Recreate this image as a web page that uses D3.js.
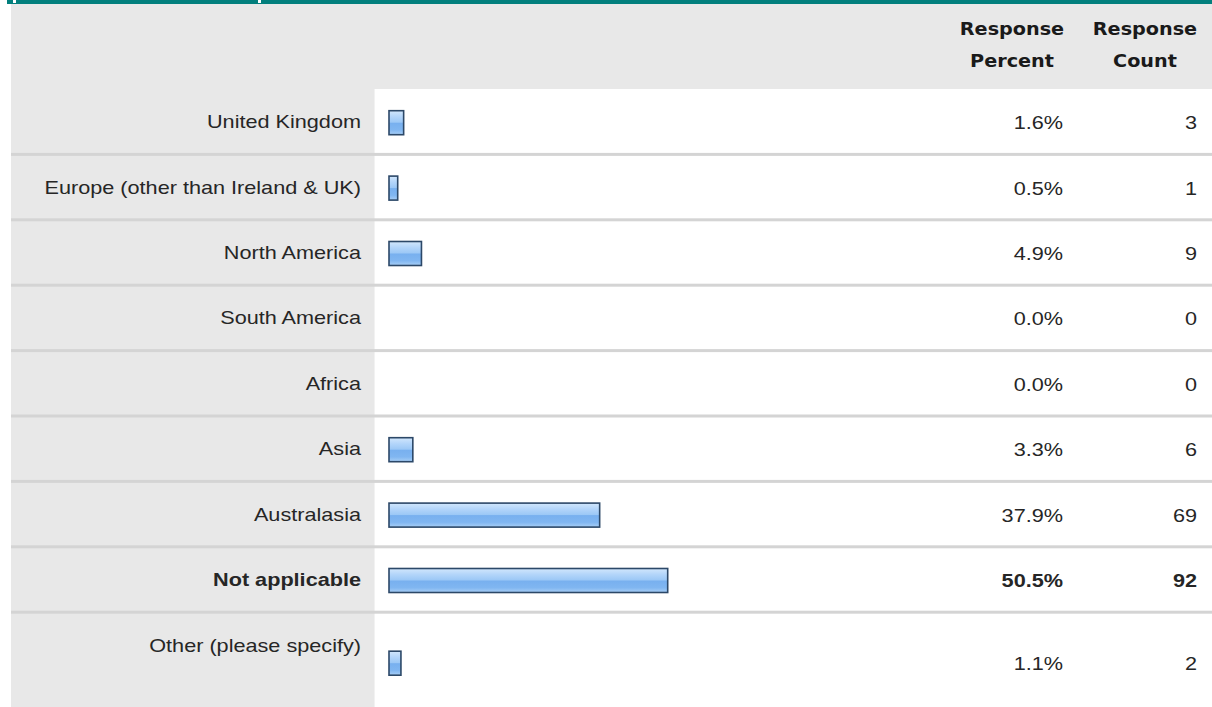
<!DOCTYPE html>
<html>
<head>
<meta charset="utf-8">
<script src="https://cdn.jsdelivr.net/npm/d3@7"></script>
<style>
  html, body { margin: 0; padding: 0; background: #fff; }
  svg { display: block; }
</style>
</head>
<body>
<div id="chart"></div>
<script>

// data
const categories = ["United Kingdom", "Europe (other than Ireland & UK)", "North America",
    "South America", "Africa", "Asia", "Australasia", "Not applicable", "Other (please specify)"];
const percents = [1.6, 0.5, 4.9, 0.0, 0.0, 3.3, 37.9, 50.5, 1.1];
const counts = [3, 1, 9, 0, 0, 6, 69, 92, 2];
const boldRows = ["Not applicable"];
const headers = [["Response", "Percent"], ["Response", "Count"]];

// constants
const width = 1212;
const height = 707;
const headTop = 4;
const headBottom = 89;
const rowStep = 65.4;
const labelColRight = 375;

const svg = d3.select("#chart")
    .append("svg")
    .attr("width", width)
    .attr("height", height);

// row scale
const y = d3.scaleBand()
    .domain(categories)
    .range([headBottom, headBottom + rowStep * categories.length])
    .padding(0);

// bar scale (bars start at 389, short bars get a small base width)
const barStart = 389;
const x = d3.scaleLinear()
    .domain([0, 100])
    .range([barStart + 6, barStart + 546]);

// gradient for the bars
const defs = svg.append("defs");
const grad = defs.append("linearGradient")
    .attr("id", "barGrad")
    .attr("x1", 0).attr("y1", 0).attr("x2", 0).attr("y2", 1);
[["0%", "#d2e7fc"], ["25%", "#b3d5fa"], ["48%", "#9cc8f6"], ["52%", "#78b0ef"],
 ["80%", "#80b6f1"], ["100%", "#a9cff6"]].forEach(s => {
    grad.append("stop").attr("offset", s[0]).attr("stop-color", s[1]);
});

// top teal strip
svg.append("rect")
    .attr("x", 7).attr("y", 0)
    .attr("width", width - 7).attr("height", headTop)
    .attr("fill", "#027f7d");
[13, 258].forEach(px => {
    svg.append("rect")
        .attr("x", px).attr("y", 0)
        .attr("width", 3).attr("height", 3)
        .attr("fill", "#ffffff");
});

// header background
svg.append("rect")
    .attr("x", 11).attr("y", headTop)
    .attr("width", width - 11).attr("height", headBottom - headTop)
    .attr("fill", "#e8e8e8");

// label column background
svg.append("rect")
    .attr("x", 11).attr("y", headBottom)
    .attr("width", labelColRight - 11).attr("height", height - headBottom)
    .attr("fill", "#e8e8e8");

// faint edge of label column
svg.append("line")
    .attr("x1", labelColRight - 0.5).attr("x2", labelColRight - 0.5)
    .attr("y1", headBottom).attr("y2", height)
    .attr("stroke", "#f2f2f2");

// header text
const headerX = [1012, 1145];
headers.forEach((lines, i) => {
    lines.forEach((t, j) => {
        svg.append("text")
            .attr("class", "stretch")
            .attr("data-k", 1.13)
            .attr("x", headerX[i])
            .attr("y", 29 + j * 32)
            .attr("dy", "0.35em")
            .attr("text-anchor", "middle")
            .style("font-family", "'DejaVu Sans', Verdana, sans-serif")
            .style("font-weight", "bold")
            .style("font-size", "17px")
            .style("fill", "#1a1a1a")
            .text(t);
    });
});

// row separators
svg.append("g")
    .selectAll("rect")
    .data(categories.slice(1))
    .enter().append("rect")
    .attr("x", 11)
    .attr("y", d => y(d) - 1.5)
    .attr("width", width - 11)
    .attr("height", 3)
    .attr("fill", "#d4d4d4");

// vertical offsets: last row is taller and its label sits at the top
function labelY(d, i) {
    return i === categories.length - 1 ? y(d) + 33 : y(d) + y.bandwidth() / 2;
}
function contentY(d, i) {
    return i === categories.length - 1 ? y(d) + 51 : y(d) + y.bandwidth() / 2 + 1;
}

const rows = svg.append("g")
    .selectAll("g")
    .data(categories)
    .enter().append("g");

const textStyle = sel => sel
    .attr("class", "stretch")
    .attr("data-k", 1.17)
    .attr("dy", "0.35em")
    .attr("text-anchor", "end")
    .style("font-family", "'Liberation Sans', Arial, sans-serif")
    .style("font-size", "18.5px")
    .style("fill", "#262626")
    .style("font-weight", d => boldRows.includes(d) ? "bold" : "normal");

// labels
rows.append("text")
    .attr("x", 361)
    .attr("y", (d, i) => labelY(d, i))
    .call(textStyle)
    .text(d => d);

// bars
rows.filter((d, i) => percents[i] > 0)
    .append("rect")
    .attr("x", barStart)
    .attr("y", d => contentY(d, categories.indexOf(d)) - 12)
    .attr("width", d => x(percents[categories.indexOf(d)]) - barStart)
    .attr("height", 24)
    .attr("fill", "url(#barGrad)")
    .attr("stroke", "#2c4868")
    .attr("stroke-width", 1.6);

// percent values
rows.append("text")
    .attr("x", 1063)
    .attr("y", (d, i) => contentY(d, i))
    .call(textStyle)
    .text((d, i) => percents[i].toFixed(1) + "%");

// counts
rows.append("text")
    .attr("x", 1197)
    .attr("y", (d, i) => contentY(d, i))
    .call(textStyle)
    .text((d, i) => counts[i]);

// widen the glyphs a little to match the reference proportions
svg.selectAll("text.stretch").each(function() {
    const k = +this.getAttribute("data-k");
    const w = this.getComputedTextLength();
    d3.select(this)
        .attr("textLength", w * k)
        .attr("lengthAdjust", "spacingAndGlyphs");
});

</script>
</body>
</html>
